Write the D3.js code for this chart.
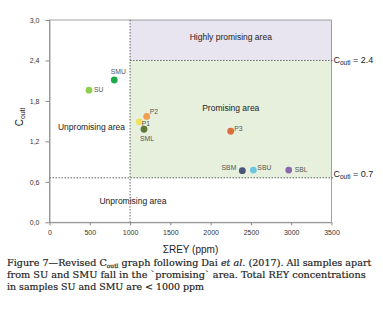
<!DOCTYPE html>
<html><head><meta charset="utf-8">
<script src="https://cdn.jsdelivr.net/npm/d3@7"></script>
<style>body{margin:0;background:#fff}svg{display:block}</style>
</head><body>
<svg id="c" width="383" height="315"></svg>
<script>
const samples = ["SU","SMU","P2","P1","SML","P3","SBM","SBU","SBL"];
const reyValues = [490, 804, 1206, 1115, 1173, 2249, 2393, 2530, 2969];
const coutlValues = [1.96, 2.11, 1.57, 1.49, 1.38, 1.35, 0.765, 0.775, 0.775];
const pointColors = ["#8fcf4f","#1faa4a","#f0a050","#efe05a","#5d7a3b","#d9703c","#4a5577","#6cc6e0","#8a68ae"];
const xTicks = [0,500,1000,1500,2000,2500,3000,3500];
const yTicks = [0,0.6,1.2,1.8,2.4,3.0];
const reyThreshold = 1000;
const coutlHigh = 2.4;
const coutlLow = 0.66;
const coutlLowLabel = "0.7";
const coutlHighLabel = "2.4";

const svg = d3.select("#c");
const x = d3.scaleLinear().domain([0,3500]).range([49.5,331.5]);
const y = d3.scaleLinear().domain([0,3]).range([222.3,20]);
const sans = "Liberation Sans, Arial, sans-serif";

// areas
svg.append("rect").attr("x",x(reyThreshold)).attr("y",y(3)).attr("width",x(3500)-x(reyThreshold)).attr("height",y(coutlHigh)-y(3)).attr("fill","#e8e4f0");
svg.append("rect").attr("x",x(reyThreshold)).attr("y",y(coutlHigh)).attr("width",x(3500)-x(reyThreshold)).attr("height",y(coutlLow)-y(coutlHigh)).attr("fill","#e6f0dc");

// frame
svg.append("rect").attr("x",x(0)).attr("y",y(3)).attr("width",x(3500)-x(0)).attr("height",y(0)-y(3)).attr("fill","none").attr("stroke","#8a8a8a").attr("stroke-width",0.8);

// threshold lines
svg.append("line").attr("x1",x(reyThreshold)).attr("x2",x(reyThreshold)).attr("y1",y(3)).attr("y2",y(0)).attr("stroke","#555").attr("stroke-width",0.9).attr("stroke-dasharray","1.5,1.5");
svg.append("line").attr("x1",x(reyThreshold)).attr("x2",x(3500)+2).attr("y1",y(coutlHigh)).attr("y2",y(coutlHigh)).attr("stroke","#555").attr("stroke-width",0.9).attr("stroke-dasharray","1.5,1.5");
svg.append("line").attr("x1",x(0)).attr("x2",x(3500)+2).attr("y1",y(coutlLow)).attr("y2",y(coutlLow)).attr("stroke","#555").attr("stroke-width",0.9).attr("stroke-dasharray","1.5,1.5");

// axes
const fmt = d => d3.format(".1f")(d).replace(".",",");
const xa = svg.append("g").attr("transform",`translate(0,${y(0)})`).call(d3.axisBottom(x).tickValues(xTicks).tickFormat(d3.format("d")).tickSize(3).tickSizeOuter(0));
const ya = svg.append("g").attr("transform",`translate(${x(0)},0)`).call(d3.axisLeft(y).tickValues(yTicks).tickFormat(fmt).tickSize(4).tickSizeOuter(0));
[xa,ya].forEach(a=>{a.select(".domain").attr("stroke","#8a8a8a").attr("stroke-width",0.8);
 a.selectAll(".tick line").attr("stroke","#8a8a8a");
 a.selectAll("text").attr("font-family",sans).attr("font-size",7).attr("fill","#333");});
xa.selectAll("text").attr("dy","0.9em");
ya.selectAll("text").attr("dx","-3px");

// axis titles
svg.append("text").attr("x",x(1750)).attr("y",253).attr("text-anchor","middle").attr("font-family",sans).attr("font-size",10).attr("fill","#222").text("ΣREY (ppm)");
const yt = svg.append("text").attr("transform","translate(23,117) rotate(-90)").attr("text-anchor","middle").attr("font-family",sans).attr("font-size",10).attr("fill","#222");
yt.append("tspan").text("C");
yt.append("tspan").attr("font-size",7).attr("dy",2).text("outl");

// area labels
const areaLbl = (t,xx,yy)=>svg.append("text").attr("x",xx).attr("y",yy).attr("text-anchor","middle").attr("dominant-baseline","middle").attr("font-family",sans).attr("font-size",8.5).attr("fill","#222").text(t);
areaLbl("Highly promising area", x(2250), y(2.74));
areaLbl("Promising area", x(2250), y(1.68));
areaLbl("Unpromising area", 91.5, y(1.4));
areaLbl("Unpromising area", 133, y(0.3));

// threshold labels
const thr = (v,lbl)=>{const t=svg.append("text").attr("x",333.5).attr("y",y(v)+1).attr("dominant-baseline","middle").attr("font-family",sans).attr("font-size",9).attr("fill","#222");
 t.append("tspan").text("C"); t.append("tspan").attr("font-size",6.5).attr("dy",2).text("outl"); t.append("tspan").attr("dy",-2).text(" = "+lbl);};
thr(coutlHigh, coutlHighLabel);
thr(coutlLow+0.06, coutlLowLabel);

// points
svg.selectAll("circle.p").data(samples).enter().append("circle").attr("class","p")
 .attr("cx",(d,i)=>x(reyValues[i])).attr("cy",(d,i)=>y(coutlValues[i])).attr("r",3.4).attr("fill",(d,i)=>pointColors[i]);

// point labels (offsets in px)
const offs = {SU:[5,0,"start"],SMU:[4,-8,"middle"],P2:[3,-4.5,"start"],P1:[2.5,2,"start"],SML:[3,9.5,"middle"],P3:[3.5,-1.8,"start"],SBM:[-6,-2.5,"end"],SBU:[4,-2,"start"],SBL:[6,0.5,"start"]};
svg.selectAll("text.pl").data(samples).enter().append("text").attr("class","pl")
 .attr("x",(d,i)=>x(reyValues[i])+offs[d][0]).attr("y",(d,i)=>y(coutlValues[i])+offs[d][1])
 .attr("text-anchor",d=>offs[d][2]).attr("dominant-baseline","middle")
 .attr("font-family",sans).attr("font-size",6.8).attr("fill","#555").text(d=>d);

// caption: line 1 built from pieces laid out sequentially
const serif = "DejaVu Serif, serif";
const cap = svg.append("g").attr("font-family",serif).attr("fill","#1e1e1e").attr("stroke","#1e1e1e").attr("stroke-width",0.2).style("white-space","pre");
const pieces = [
 {t:"Figure 7—Revised C", fs:1, dy:0},
 {t:"outl", fs:0.62, dy:2},
 {t:" graph following Dai ", fs:1, dy:0},
 {t:"et al.", fs:1, dy:0, it:true},
 {t:" (2017). All samples apart", fs:1, dy:0}];
function layoutLine(base, y0, target){
  const nodes = pieces.map(p=>cap.append("text").style("white-space","pre").attr("y",y0+p.dy).attr("font-size",base*p.fs).attr("font-style",p.it?"italic":null).text(p.t));
  let tot = nodes.reduce((s,n)=>s+n.node().getComputedTextLength(),0);
  const k = target/tot;
  let cx = 7;
  nodes.forEach((n,i)=>{n.attr("font-size",base*k*pieces[i].fs).attr("x",cx); cx += n.node().getComputedTextLength();});
}
layoutLine(10, 266, 365);
function fitLine(txt, y0, target){
  const n = cap.append("text").attr("x",7).attr("y",y0).attr("font-size",10).text(txt);
  const w = n.node().getComputedTextLength();
  n.attr("font-size",10*target/w);
}
fitLine("from SU and SMU fall in the `promising` area. Total REY concentrations", 278, 359);
fitLine("in samples SU and SMU are < 1000 ppm", 290, 197);
</script>
</body></html>
